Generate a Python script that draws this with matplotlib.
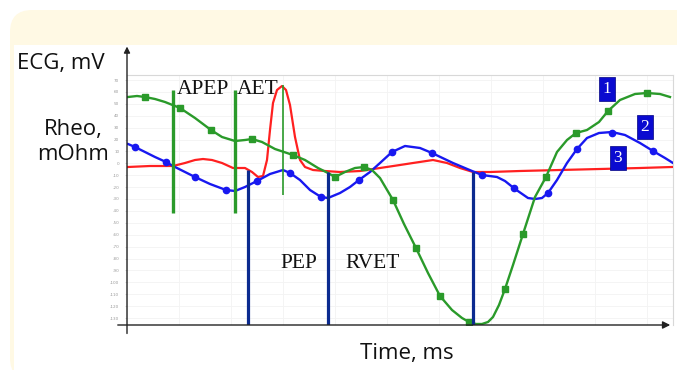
import matplotlib
matplotlib.use('Agg')
import matplotlib.pyplot as plt
import numpy as np
from matplotlib.patches import FancyBboxPatch, Rectangle
from matplotlib.transforms import IdentityTransform

# ---- data (time units, signal units) ----
green_t = [1, 10, 18, 28, 38, 53, 68, 84, 95, 108, 118, 125, 135, 148, 166, 178, 191, 201, 208,
           218, 228, 237, 245, 253, 266, 277, 289, 301, 313, 325, 335, 342, 349, 355, 361, 366,
           372, 378, 386, 396, 408, 419, 430, 440, 449, 460, 472, 481, 493, 508, 520, 533, 543]
green_v = [228, 229, 228, 226, 223, 217, 207, 195, 188, 184, 185, 186, 183, 176, 170, 165, 157,
           152, 148, 153, 157, 158, 155, 147, 125, 101, 77, 52, 29, 15, 7, 3, 1, 1, 3, 8,
           20, 36, 60, 91, 128, 148, 173, 185, 192, 195, 203, 214, 225, 231, 232, 231, 228]
green_mt = [18, 53, 84, 125, 166, 208, 237, 266, 289, 313, 342, 378, 396, 419, 449, 481, 520]
green_mv = [228, 217, 195, 186, 170, 148, 158, 125, 77, 29, 3, 36, 91, 148, 192, 214, 232]

blue_t = [1, 8, 18, 28, 39, 46, 58, 68, 83, 99, 108, 118, 130, 143, 156, 163, 173, 183, 194,
          201, 213, 223, 232, 243, 253, 265, 278, 293, 305, 326, 345, 355, 370, 378, 388, 401,
          408, 415, 421, 430, 440, 450, 460, 472, 485, 498, 513, 526, 538, 546]
blue_v = [181, 178, 173, 168, 163, 159, 153, 148, 141, 135, 134, 138, 144, 151, 155, 152, 145,
          135, 128, 127, 132, 138, 145, 153, 162, 173, 179, 177, 172, 162, 154, 150, 148, 144,
          136, 127, 126, 127, 132, 145, 162, 176, 187, 192, 193, 190, 182, 174, 167, 162]
blue_mt = [8, 39, 68, 99, 130, 163, 194, 232, 265, 305, 355, 387, 421, 450, 485, 526]
blue_mv = [178, 163, 148, 135, 144, 152, 128, 145, 173, 172, 150, 137, 132, 176, 192, 174]

red_t = [1, 23, 46, 58, 68, 76, 85, 95, 106, 118, 125, 131, 136, 140, 143, 146, 150, 155, 159,
         163, 168, 173, 178, 186, 198, 213, 233, 253, 273, 286, 306, 320, 333, 346, 363, 393,
         433, 473, 513, 545]
red_v = [158, 159, 159, 162, 165, 166, 165, 162, 157, 157, 153, 148, 149, 165, 195, 222, 235,
         239, 235, 220, 188, 165, 158, 155, 154, 153, 154, 157, 160, 162, 165, 162, 157, 153,
         153, 154, 155, 156, 157, 158]

# phase boundaries
green_bounds = [46, 108]
green_bound_lo, green_bound_hi = 112, 235
aet_peak_t, aet_lo, aet_hi = 156, 130, 240
blue_bounds = [121, 201, 346]
blue_bound_hi = [155, 153, 153]

phase_labels = ['APEP', 'AET', 'PEP', 'RVET']
phase_pos = [(50, 235), (110, 235), (153, 62), (218, 62)]

legend_nums = ['1', '2', '3']
legend_pos = [(480, 236), (518, 198), (491, 167)]

ytick_labels = ['70', '60', '50', '40', '30', '20', '10', '0', '-10', '-20', '-30', '-40',
                '-50', '-60', '-70', '-80', '-90', '-100', '-110', '-120', '-130']

GREEN = '#2a9a2a'
RED = '#ff2020'
BLUE = '#1818f0'
NAVY = '#0b2a8f'
W, H = 677, 370

fig = plt.figure(figsize=(W / 100, H / 100), dpi=100, facecolor='white')

# backdrop: pale yellow card with white panel
fig.patches.append(FancyBboxPatch((10, -10), 700, 370, boxstyle='round,pad=0,rounding_size=22',
                                  transform=IdentityTransform(), facecolor='#fff9e4',
                                  edgecolor='none', zorder=-10))
fig.patches.append(Rectangle((14, -10), 700, 335, transform=IdentityTransform(),
                             facecolor='white', edgecolor='none', zorder=-9))

ax = fig.add_axes([127 / W, 45 / H, 546 / W, 250 / H])
ax.set_facecolor('none')
ax.set_xlim(0, 546)
ax.set_ylim(0, 250)

ax.plot(red_t, red_v, color=RED, lw=1.6, zorder=3)
ax.plot(blue_t, blue_v, color=BLUE, lw=1.7, zorder=4)
ax.plot(blue_mt, blue_mv, 'o', color=BLUE, ms=4.5, zorder=4)
ax.plot(green_t, green_v, color=GREEN, lw=1.7, zorder=5)
ax.plot(green_mt, green_mv, 's', color=GREEN, ms=4, zorder=5)

ax.vlines(green_bounds, green_bound_lo, green_bound_hi, color=GREEN, lw=2.4, zorder=6)
ax.vlines(aet_peak_t, aet_lo, aet_hi, color=GREEN, lw=1.2, zorder=6)
ax.vlines(blue_bounds, 0, blue_bound_hi, color=NAVY, lw=2.3, zorder=6)

for lab, (t, v) in zip(phase_labels, phase_pos):
    ax.text(t, v, lab, ha='left', va='center', fontsize=15.5, family='Liberation Serif',
            color='#111111', zorder=7)

for num, (t, v) in zip(legend_nums, legend_pos):
    ax.text(t, v, num, ha='center', va='center', fontsize=12.5, family='Liberation Serif',
            color='white', zorder=8,
            bbox=dict(boxstyle='square,pad=0.22', facecolor='#0a0ad0', edgecolor='#000080', lw=0.5))

# faint grid and frame
ax.set_xticks(np.arange(0, 546, 52))
ax.set_yticks(np.linspace(245, 7, len(ytick_labels)))
ax.set_yticklabels(ytick_labels, fontsize=3, color='#999999')
ax.set_xticklabels([])
ax.tick_params(axis='x', length=0)
ax.tick_params(axis='y', length=1.5, width=0.4, color='#bbbbbb', pad=4)
ax.grid(True, color='#f3f3f3', lw=0.6, zorder=0)
for s in ['top', 'right']:
    ax.spines[s].set_color('#d8d8d8')
    ax.spines[s].set_linewidth(0.8)
ax.spines['left'].set_visible(False)
ax.spines['bottom'].set_visible(False)

# axis arrows
ax.annotate('', xy=(0, 1.125), xytext=(0, -0.045), xycoords='axes fraction',
            arrowprops=dict(arrowstyle='-|>', color='#222222', lw=1.0, mutation_scale=9),
            annotation_clip=False, zorder=9)
ax.annotate('', xy=(1.0, 0), xytext=(-0.022, 0), xycoords='axes fraction',
            arrowprops=dict(arrowstyle='-|>', color='#222222', lw=1.0, mutation_scale=11),
            annotation_clip=False, zorder=9)

# axis titles
lab_font = dict(fontsize=16, family='Open Sans', color='#111111')
fig.text(17 / W, 1 - 63 / H, 'ECG, mV', ha='left', va='center', **lab_font)
fig.text(73 / W, 1 - 129 / H, 'Rheo,', ha='center', va='center', **lab_font)
fig.text(73 / W, 1 - 155 / H, 'mOhm', ha='center', va='center', **lab_font)
fig.text(407 / W, 1 - 354 / H, 'Time, ms', ha='center', va='center', **lab_font)

fig.savefig('out.png', dpi=100)
